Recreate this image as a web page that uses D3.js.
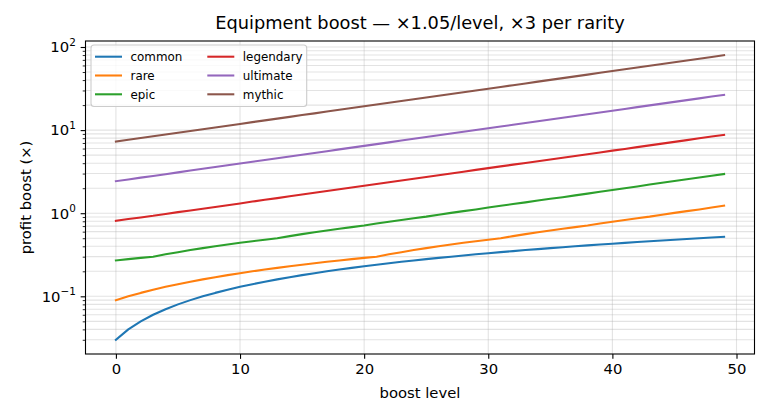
<!DOCTYPE html>
<html>
<head>
<meta charset="utf-8">
<script src="https://cdn.jsdelivr.net/npm/d3@7"></script>
<style>
  html, body { margin: 0; padding: 0; background: #fff; }
  svg { display: block; font-family: "DejaVu Sans", sans-serif; }
</style>
</head>
<body>
<svg id="chart" width="770" height="418"></svg>
<script>
const levels = [0,1,2,3,4,5,6,7,8,9,10,11,12,13,14,15,16,17,18,19,20,21,22,23,24,25,26,27,28,29,30,31,32,33,34,35,36,37,38,39,40,41,42,43,44,45,46,47,48,49];

const common = [0.03,0.04,0.05,0.06,0.07,0.08,0.09,0.10,0.11,0.12,0.13,0.14,0.15,0.16,0.17,0.18,0.19,0.20,0.21,0.22,0.23,0.24,0.25,0.26,0.27,0.28,0.29,0.30,0.31,0.32,0.33,0.34,0.35,0.36,0.37,0.38,0.39,0.40,0.41,0.42,0.43,0.44,0.45,0.46,0.47,0.48,0.49,0.50,0.51,0.52];
const rare = [0.09,0.10,0.11,0.12,0.13,0.14,0.15,0.16,0.17,0.18,0.19,0.20,0.21,0.22,0.23,0.24,0.25,0.26,0.27,0.28,0.29,0.30,0.32,0.34,0.36,0.38,0.40,0.42,0.44,0.46,0.48,0.50,0.53,0.56,0.59,0.62,0.65,0.68,0.71,0.75,0.79,0.83,0.87,0.91,0.96,1.01,1.06,1.11,1.17,1.23];
const epic = [0.27,0.28,0.29,0.30,0.32,0.34,0.36,0.38,0.40,0.42,0.44,0.46,0.48,0.50,0.53,0.56,0.59,0.62,0.65,0.68,0.71,0.75,0.79,0.83,0.87,0.91,0.96,1.01,1.06,1.11,1.17,1.23,1.29,1.35,1.42,1.49,1.56,1.64,1.72,1.81,1.90,2.00,2.10,2.21,2.32,2.44,2.56,2.69,2.82,2.96];
const legendary = [0.81,0.85,0.89,0.93,0.98,1.03,1.08,1.13,1.19,1.25,1.31,1.38,1.45,1.52,1.60,1.68,1.76,1.85,1.94,2.04,2.14,2.25,2.36,2.48,2.60,2.73,2.87,3.01,3.16,3.32,3.49,3.66,3.84,4.03,4.23,4.44,4.66,4.89,5.13,5.39,5.66,5.94,6.24,6.55,6.88,7.22,7.58,7.96,8.36,8.78];
const ultimate = [2.43,2.55,2.68,2.81,2.95,3.10,3.26,3.42,3.59,3.77,3.96,4.16,4.37,4.59,4.82,5.06,5.31,5.58,5.86,6.15,6.46,6.78,7.12,7.48,7.85,8.24,8.65,9.08,9.53,10.01,10.51,11.04,11.59,12.17,12.78,13.42,14.09,14.79,15.53,16.31,17.13,17.99,18.89,19.83,20.82,21.86,22.95,24.10,25.31,26.58];
const mythic = [7.29,7.65,8.04,8.44,8.86,9.30,9.77,10.26,10.77,11.31,11.87,12.47,13.09,13.75,14.43,15.16,15.91,16.71,17.54,18.42,19.34,20.31,21.33,22.39,23.51,24.69,25.92,27.22,28.58,30.01,31.51,33.08,34.74,36.47,38.30,40.21,42.22,44.33,46.55,48.88,51.32,53.89,56.58,59.41,62.38,65.50,68.78,72.21,75.83,79.62];

const seriesNames = ["common","rare","epic","legendary","ultimate","mythic"];
const seriesValues = [common, rare, epic, legendary, ultimate, mythic];
const seriesColors = ["#1f77b4","#ff7f0e","#2ca02c","#d62728","#9467bd","#8c564b"];

const xTicks = [0,10,20,30,40,50];
const yMajorExps = [-1,0,1,2];

const titleText = "Equipment boost \u2014 \u00d71.05/level, \u00d73 per rarity";
const xLabelText = "boost level";
const yLabelText = "profit boost (\u00d7)";

// ---- layout ----
const svg = d3.select("#chart");
const L = 85.5, R = 754.5, T = 41, B = 354;
const FS = 14.8, FS_TITLE = 17.8, FS_LEG = 11.9, FS_SUP = 10.4;

const xMin = d3.min(levels), xMax = d3.max(levels);
const xPad = (xMax - xMin) * 0.05;
const x = d3.scaleLinear().domain([xMin - xPad, xMax + xPad]).range([L, R]);

const allVals = seriesValues.flat();
const lmin = Math.log10(d3.min(allVals)), lmax = Math.log10(d3.max(allVals));
const lpad = (lmax - lmin) * 0.05;
const y = d3.scaleLog().domain([Math.pow(10, lmin - lpad), Math.pow(10, lmax + lpad)]).range([B, T]);

const [yd0, yd1] = y.domain();
const minorTicks = [];
for (let e = -3; e <= 3; e++) {
  for (let m = 2; m <= 9; m++) {
    const v = m * Math.pow(10, e);
    if (v >= yd0 && v <= yd1) minorTicks.push(v);
  }
}
const majorTicks = yMajorExps.map(e => Math.pow(10, e)).filter(v => v >= yd0 && v <= yd1);

// ---- grid ----
const grid = svg.append("g");
grid.selectAll("line.ymin").data(minorTicks).join("line")
  .attr("x1", L).attr("x2", R)
  .attr("y1", d => y(d)).attr("y2", d => y(d))
  .attr("stroke", "#b0b0b0").attr("stroke-opacity", 0.35).attr("stroke-width", 1.1);
grid.selectAll("line.ymaj").data(majorTicks).join("line")
  .attr("x1", L).attr("x2", R)
  .attr("y1", d => y(d)).attr("y2", d => y(d))
  .attr("stroke", "#b0b0b0").attr("stroke-opacity", 0.35).attr("stroke-width", 1.1);
grid.selectAll("line.xmaj").data(xTicks).join("line")
  .attr("x1", d => x(d)).attr("x2", d => x(d))
  .attr("y1", T).attr("y2", B)
  .attr("stroke", "#b0b0b0").attr("stroke-opacity", 0.35).attr("stroke-width", 1.1);

// ---- lines ----
const line = d3.line().x((d, i) => x(levels[i])).y(d => y(d));
svg.append("g").selectAll("path").data(seriesValues).join("path")
  .attr("d", d => line(d))
  .attr("fill", "none")
  .attr("stroke", (d, i) => seriesColors[i])
  .attr("stroke-width", 2.08)
  .attr("stroke-linecap", "square")
  .attr("stroke-linejoin", "round");

// ---- axes ----
const xAxis = d3.axisBottom(x).tickValues(xTicks).tickSize(4.86).tickPadding(4.5).tickFormat(d3.format("d"));
const gx = svg.append("g").attr("transform", `translate(0,${B})`).call(xAxis);
gx.select(".domain").remove();
gx.selectAll(".tick line").attr("stroke", "#000").attr("stroke-width", 1.1);
gx.selectAll(".tick text").attr("font-size", FS + "px").attr("font-family", "DejaVu Sans").attr("fill", "#000");

const yAxisMinor = d3.axisLeft(y).tickValues(minorTicks).tickSize(2.78).tickFormat("");
const gym = svg.append("g").attr("transform", `translate(${L},0)`).call(yAxisMinor);
gym.select(".domain").remove();
gym.selectAll(".tick line").attr("stroke", "#000").attr("stroke-width", 0.83);

const yAxis = d3.axisLeft(y).tickValues(majorTicks).tickSize(4.86).tickFormat("");
const gy = svg.append("g").attr("transform", `translate(${L},0)`).call(yAxis);
gy.select(".domain").remove();
gy.selectAll(".tick line").attr("stroke", "#000").attr("stroke-width", 1.1);

// y tick labels as 10^e
const ylab = svg.append("g");
majorTicks.forEach(v => {
  const e = Math.round(Math.log10(v));
  const t = ylab.append("text")
    .attr("x", L - 9.7).attr("y", y(v) + 5.3)
    .attr("text-anchor", "end")
    .attr("font-size", FS + "px").attr("fill", "#000");
  t.append("tspan").text("10");
  t.append("tspan").attr("font-size", FS_SUP + "px").attr("dy", -6.5)
    .text(String(e).replace("-", "\u2212"));
});

// ---- spines ----
svg.append("rect").attr("x", L).attr("y", T).attr("width", R - L).attr("height", B - T)
  .attr("fill", "none").attr("stroke", "#000").attr("stroke-width", 1.1);

// ---- labels ----
svg.append("text").attr("x", (L + R) / 2).attr("y", 28.5).attr("text-anchor", "middle")
  .attr("font-size", FS_TITLE + "px").attr("fill", "#000").text(titleText);
svg.append("text").attr("x", (L + R) / 2).attr("y", 398).attr("text-anchor", "middle")
  .attr("font-size", FS + "px").attr("fill", "#000").text(xLabelText);
svg.append("text").attr("transform", `translate(30.5,${(T + B) / 2}) rotate(-90)`)
  .attr("text-anchor", "middle").attr("font-size", FS + "px").attr("fill", "#000").text(yLabelText);

// ---- legend ----
const lg = svg.append("g");
lg.append("rect").attr("x", 91).attr("y", 45).attr("width", 215.7).attr("height", 61.5)
  .attr("rx", 3).attr("ry", 3)
  .attr("fill", "#fff").attr("fill-opacity", 0.8)
  .attr("stroke", "#cccccc").attr("stroke-width", 1.1);
const colX = [95, 207.3];
const rowY = [56.7, 75.5, 94.3];
seriesNames.forEach((name, i) => {
  const c = Math.floor(i / 3), r = i % 3;
  const hx = colX[c], hy = rowY[r];
  lg.append("line").attr("x1", hx).attr("x2", hx + 27).attr("y1", hy).attr("y2", hy)
    .attr("stroke", seriesColors[i]).attr("stroke-width", 2.08);
  lg.append("text").attr("x", hx + 35.5).attr("y", hy + 4.2)
    .attr("font-size", FS_LEG + "px").attr("fill", "#000").text(name);
});
</script>
</body>
</html>
